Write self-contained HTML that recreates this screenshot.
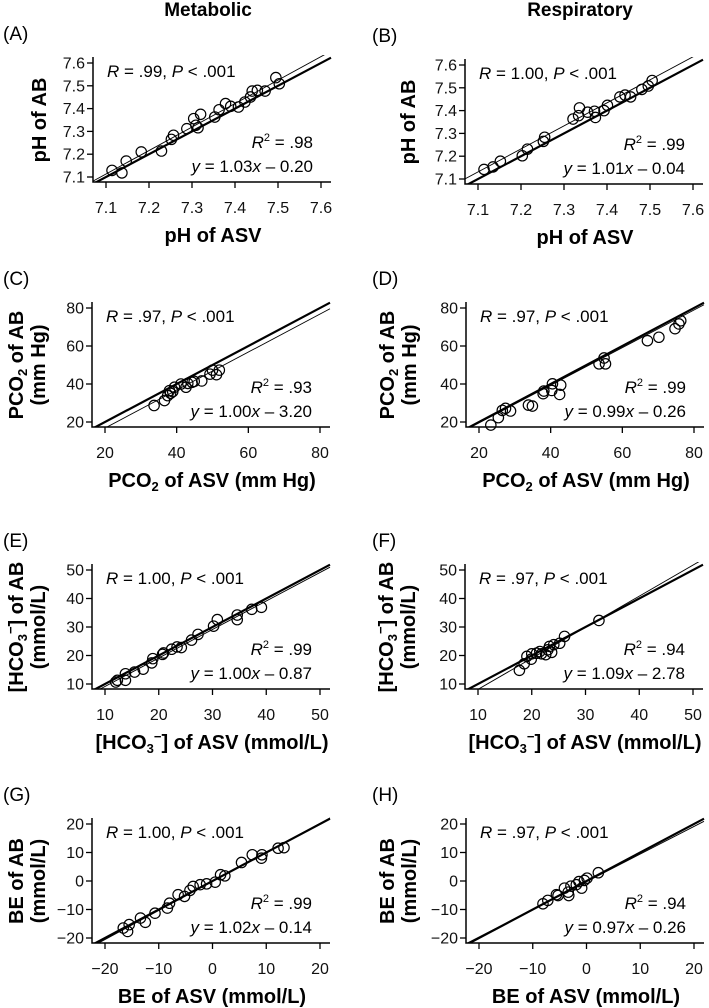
<!DOCTYPE html>
<html><head><meta charset="utf-8"><style>
html,body{margin:0;padding:0;background:#fff;}
svg{display:block;font-family:"Liberation Sans",Arial,sans-serif;}
</style></head><body>
<svg id="fig" width="709" height="1008" viewBox="0 0 709 1008" xmlns="http://www.w3.org/2000/svg">
<text x="208" y="16" font-size="19" font-weight="bold" text-anchor="middle">Metabolic</text>
<text x="580" y="16" font-size="19" font-weight="bold" text-anchor="middle">Respiratory</text>
</svg>
<script>
// ---- data ----
const phTicks = [7.1, 7.2, 7.3, 7.4, 7.5, 7.6];
const pco2Ticks = [20, 40, 60, 80];
const hco3Ticks = [10, 20, 30, 40, 50];
const beTicks = [-20, -10, 0, 10, 20];

const aX = [7.114,7.137,7.147,7.182,7.229,7.252,7.257,7.288,7.304,7.309,7.320,7.314,7.353,7.363,7.378,7.390,7.408,7.423,7.436,7.440,7.452,7.470,7.495,7.503];
const aY = [7.129,7.118,7.170,7.210,7.214,7.265,7.283,7.312,7.356,7.327,7.375,7.316,7.363,7.395,7.422,7.410,7.407,7.429,7.451,7.477,7.480,7.477,7.536,7.509];
const bX = [7.114,7.135,7.152,7.203,7.215,7.252,7.255,7.321,7.334,7.336,7.355,7.373,7.371,7.393,7.401,7.430,7.442,7.455,7.481,7.496,7.505];
const bY = [7.142,7.153,7.178,7.202,7.231,7.265,7.283,7.363,7.378,7.412,7.393,7.370,7.397,7.400,7.423,7.460,7.468,7.460,7.493,7.508,7.532];
const cX = [33.7,36.6,37.5,38.0,38.3,38.9,39.4,41.2,42.6,43.1,44.3,44.9,47.0,49.3,50.0,51.1,51.9];
const cY = [28.7,31.3,33.9,36.5,35.1,36.0,38.3,40.0,38.3,40.3,40.9,41.4,41.6,45.2,47.3,44.9,47.3];
const dX = [23.3,25.4,26.5,27.4,28.8,33.8,34.9,37.9,38.1,40.3,40.5,42.5,42.8,53.5,54.9,55.3,67.0,70.2,74.7,75.8,76.3];
const dY = [18.4,22.3,26.1,27.2,25.8,28.9,28.4,34.9,36.3,36.6,40.1,34.5,39.4,50.6,53.7,50.6,62.8,64.6,69.1,71.6,73.3];
const eX = [12.0,12.3,13.8,13.8,15.5,17.1,18.7,18.9,20.7,20.9,22.4,23.4,24.2,26.1,27.3,30.2,30.9,34.6,34.6,37.3,39.1];
const eY = [10.7,11.3,11.3,13.6,14.2,15.2,17.4,18.9,20.4,20.9,22.2,23.0,22.8,25.4,27.4,30.3,32.6,32.6,34.2,36.2,36.9];
const fX = [17.7,18.6,19.1,19.9,20.0,20.9,21.5,21.8,22.6,23.0,23.3,23.7,24.1,25.2,26.1,32.5];
const fY = [14.8,17.1,19.7,18.7,20.6,20.8,21.4,20.6,20.3,22.0,23.2,21.1,23.8,24.3,26.7,32.3];
const gX = [-16.6,-15.8,-15.5,-13.4,-12.5,-10.7,-8.4,-8.0,-6.4,-5.2,-4.2,-3.6,-2.3,-1.1,0.5,1.5,2.3,5.4,7.4,9.1,9.2,12.2,13.3];
const gY = [-16.5,-17.7,-15.3,-13.0,-14.5,-11.3,-9.5,-7.8,-4.8,-5.4,-3.3,-1.9,-1.3,-1.0,-0.4,2.2,1.8,6.5,9.2,8.0,9.2,11.5,11.7];
const hX = [-8.1,-7.2,-5.6,-5.3,-4.1,-3.4,-3.3,-2.9,-1.9,-1.4,-0.9,-0.4,0.1,2.2];
const hY = [-8.0,-6.8,-4.8,-5.1,-2.5,-3.9,-5.1,-1.8,-1.3,-0.2,-2.5,0.2,1.0,2.9];

const slopes = [1.03, 1.01, 1.00, 0.99, 1.00, 1.09, 1.02, 0.97];
const intercepts = [-0.20, -0.04, -3.20, -0.26, -0.87, -2.78, -0.14, -0.26];

const NS = "http://www.w3.org/2000/svg";
const svg = document.getElementById('fig');
function el(tag, attrs, parent) {
  const e = document.createElementNS(NS, tag);
  for (const k in attrs) e.setAttribute(k, attrs[k]);
  (parent || svg).appendChild(e);
  return e;
}

const panels = [
  {id:'a', letter:'(A)', L:93, T:63, ticks:phTicks, xs:aX, ys:aY, dec:1, ytitle:'ph', xtitle:'ph', rtxt:'.99', r2:'.98', eq:['1.03','0.20']},
  {id:'b', letter:'(B)', L:465, T:65, ticks:phTicks, xs:bX, ys:bY, dec:1, ytitle:'ph', xtitle:'ph', rtxt:'1.00', r2:'.99', eq:['1.01','0.04']},
  {id:'c', letter:'(C)', L:92, T:308, ticks:pco2Ticks, xs:cX, ys:cY, dec:0, ytitle:'pco2', xtitle:'pco2', rtxt:'.97', r2:'.93', eq:['1.00','3.20']},
  {id:'d', letter:'(D)', L:466, T:308, ticks:pco2Ticks, xs:dX, ys:dY, dec:0, ytitle:'pco2', xtitle:'pco2', rtxt:'.97', r2:'.99', eq:['0.99','0.26']},
  {id:'e', letter:'(E)', L:92, T:570, ticks:hco3Ticks, xs:eX, ys:eY, dec:0, ytitle:'hco3', xtitle:'hco3', rtxt:'1.00', r2:'.99', eq:['1.00','0.87']},
  {id:'f', letter:'(F)', L:465, T:570, ticks:hco3Ticks, xs:fX, ys:fY, dec:0, ytitle:'hco3', xtitle:'hco3', rtxt:'.97', r2:'.94', eq:['1.09','2.78']},
  {id:'g', letter:'(G)', L:92, T:824, ticks:beTicks, xs:gX, ys:gY, dec:0, ytitle:'be', xtitle:'be', rtxt:'1.00', r2:'.99', eq:['1.02','0.14']},
  {id:'h', letter:'(H)', L:466, T:824, ticks:beTicks, xs:hX, ys:hY, dec:0, ytitle:'be', xtitle:'be', rtxt:'.97', r2:'.94', eq:['0.97','0.26']}
];

panels.forEach((p, idx) => {
  const t0 = p.ticks[0], t1 = p.ticks[p.ticks.length-1];
  const L = p.L, T = p.T, B = T + 119, R = L + 238;
  const sx = v => L + 13 + (v - t0) / (t1 - t0) * 215;
  const sy = v => T + (t1 - v) / (t1 - t0) * 114;
  const ix = px => t0 + (px - L - 13) / 215 * (t1 - t0);
  const g = el('g', {});
  
  

  const cx0 = p.L < 300 ? 3 : 372;
  const lt = el('text', {x: cx0, y: T - 23, 'font-size': 19}, g);
  
  
  lt.textContent = p.letter;

  const cp = el('clipPath', {id: 'clip-' + p.id}, g);
  el('rect', {x: L, y: T - 8, width: 240, height: B - T + 8}, cp);

  const xa = ix(L), xb = ix(R);
  const ident = el('line', {x1: sx(xa), y1: sy(xa), x2: sx(xb), y2: sy(xb), stroke: '#000', 'stroke-width': 2.2, 'clip-path': 'url(#clip-' + p.id + ')'}, g);
  
  
  const m = slopes[idx], c = intercepts[idx];
  const reg = el('line', {x1: sx(xa), y1: sy(m*xa + c), x2: sx(xb), y2: sy(m*xb + c), stroke: '#000', 'stroke-width': 0.9, 'clip-path': 'url(#clip-' + p.id + ')'}, g);
  
  

  p.xs.forEach((xv, i) => {
    const ci = el('circle', {cx: sx(xv), cy: sy(p.ys[i]), r: 5.2, fill: 'none', stroke: '#000', 'stroke-width': 1.2}, g);
    
    
  });

  const ax = el('path', {d: `M${L},${T-6} L${L},${B} L${R},${B}`, fill: 'none', stroke: '#000', 'stroke-width': 1.5}, g);
  
  
  p.ticks.forEach(t => {
    const lab = p.dec ? t.toFixed(1) : String(t).replace('-', '\u2212');
    el('line', {x1: L - 6, y1: sy(t), x2: L, y2: sy(t), stroke: '#000', 'stroke-width': 1.3}, g);
    const yl = el('text', {x: L - 8, y: sy(t) + 5.5, 'font-size': 16, 'text-anchor': 'end', fill: '#111'}, g);
    
    
    yl.textContent = lab;
    el('line', {x1: sx(t), y1: B, x2: sx(t), y2: B + 6, stroke: '#000', 'stroke-width': 1.3}, g);
    const xl = el('text', {x: sx(t), y: B + 31, 'font-size': 16, 'text-anchor': 'middle', fill: '#111'}, g);
    
    
    xl.textContent = lab;
  });

  const rt = el('text', {x: L + 14, y: T + 14, 'font-size': 17}, g);
  
  
  rt.innerHTML = `<tspan font-style="italic">R</tspan> = ${p.rtxt}, <tspan font-style="italic">P</tspan> &lt; .001`;
  const r2 = el('text', {x: L + 220, y: T + 85, 'font-size': 17, 'text-anchor': 'end'}, g);
  
  
  r2.innerHTML = `<tspan font-style="italic">R</tspan><tspan font-size="11" dy="-7">2</tspan><tspan dy="7"> = ${p.r2}</tspan>`;
  const eq = el('text', {x: L + 220, y: T + 109, 'font-size': 17, 'text-anchor': 'end'}, g);
  
  
  eq.innerHTML = `<tspan font-style="italic">y</tspan> = ${p.eq[0]}<tspan font-style="italic">x</tspan> \u2013 ${p.eq[1]}`;

  const yc = T + 57;
  const left = p.L < 300;
  if (p.ytitle !== 'ph') {
    const x1 = left ? L - 69 : L - 72, x2 = left ? L - 47 : L - 50;
    const first = {
      pco2: 'PCO<tspan font-size="13" dy="4">2</tspan><tspan dy="-4"> of AB</tspan>',
      hco3: '[HCO<tspan font-size="13" dy="4">3</tspan><tspan font-size="13" dy="-12">\u2212</tspan><tspan dy="8">] of AB</tspan>',
      be: 'BE of AB'
    }[p.ytitle];
    const second = p.ytitle === 'pco2' ? '(mm Hg)' : '(mmol/L)';
    const y1 = el('text', {x: 0, y: 0, 'font-size': 20, 'font-weight': 'bold', 'text-anchor': 'middle', transform: `translate(${x1},${yc}) rotate(-90)`}, g);
    
    
    y1.innerHTML = first;
    const y2 = el('text', {x: 0, y: 0, 'font-size': 20, 'font-weight': 'bold', 'text-anchor': 'middle', transform: `translate(${x2},${yc}) rotate(-90)`}, g);
    
    
    y2.textContent = second;
  } else {
    const xt = left ? L - 47 : L - 50;
    const y1 = el('text', {x: 0, y: 0, 'font-size': 20, 'font-weight': 'bold', 'text-anchor': 'middle', transform: `translate(${xt},${yc}) rotate(-90)`}, g);
    
    
    y1.textContent = 'pH of AB';
  }

  const xtMap = {
    ph: 'pH of ASV',
    pco2: 'PCO<tspan font-size="13" dy="4">2</tspan><tspan dy="-4"> of ASV (mm Hg)</tspan>',
    hco3: '[HCO<tspan font-size="13" dy="4">3</tspan><tspan font-size="13" dy="-12">\u2212</tspan><tspan dy="8">] of ASV (mmol/L)</tspan>',
    be: 'BE of ASV (mmol/L)'
  };
  const xt = el('text', {x: L + 120, y: B + 60, 'font-size': 20, 'font-weight': 'bold', 'text-anchor': 'middle'}, g);
  
  
  xt.innerHTML = xtMap[p.xtitle];
});
</script>
</body></html>
